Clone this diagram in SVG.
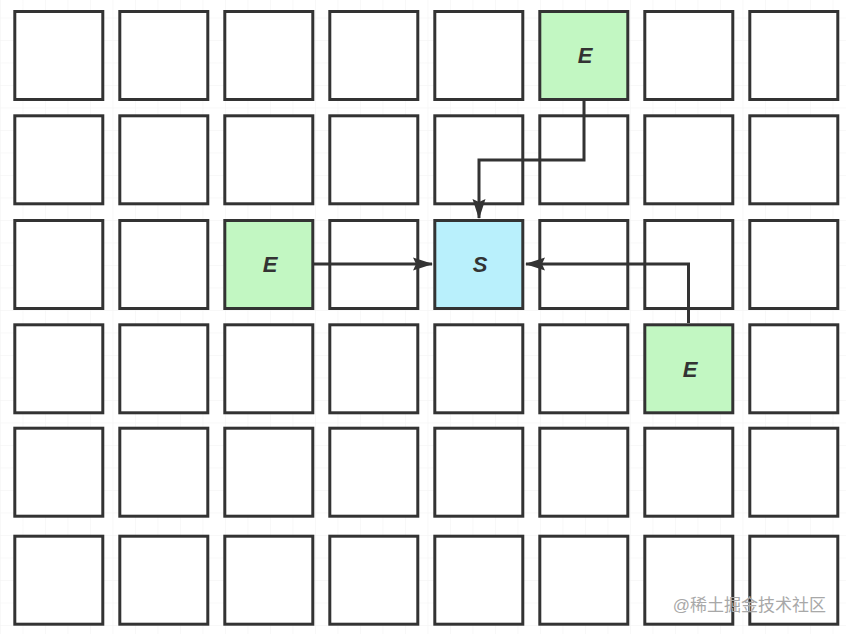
<svg xmlns="http://www.w3.org/2000/svg" width="846" height="634" viewBox="0 0 846 634">
<style>
.cell{fill:#ffffff;stroke:#333333;stroke-width:3}
.e{fill:#c2f7c2}
.s{fill:#b9f0fc}
.lbl{font-family:"Liberation Sans",Arial,sans-serif;font-size:22px;font-weight:bold;font-style:italic;fill:#333333;text-anchor:middle}
.conn{fill:none;stroke:#333333;stroke-width:3}
.wm{font-family:"Liberation Sans","Noto Sans CJK SC",sans-serif;font-size:17px;fill:#a8a8a8;text-anchor:end}
</style>
<defs>
<pattern id="grid" x="0" y="17.5" width="22.5" height="22.5" patternUnits="userSpaceOnUse">
<path d="M0 0 H22.5 M0 0 V22.5" fill="none" stroke="#f2f2f2" stroke-width="1"/>
</pattern>
<marker id="arr" viewBox="0 0 20 14" refX="19" refY="7" markerWidth="20" markerHeight="14" markerUnits="userSpaceOnUse" orient="auto">
<path d="M0 0.5 L20 7 L0 13.5 L3 7 Z" fill="#333333"/>
</marker>
</defs>
<rect width="846" height="634" fill="#ffffff"/>
<rect width="846" height="634" fill="url(#grid)"/>
<g id="cells">
<g id="r0">
<rect class="cell" x="14.8" y="11.5" width="88" height="88"/>
<rect class="cell" x="119.8" y="11.5" width="88" height="88"/>
<rect class="cell" x="224.8" y="11.5" width="88" height="88"/>
<rect class="cell" x="329.8" y="11.5" width="88" height="88"/>
<rect class="cell" x="434.8" y="11.5" width="88" height="88"/>
<rect class="cell" x="644.8" y="11.5" width="88" height="88"/>
<rect class="cell" x="749.8" y="11.5" width="88" height="88"/>
</g>
<g id="r1">
<rect class="cell" x="14.8" y="115.8" width="88" height="88"/>
<rect class="cell" x="119.8" y="115.8" width="88" height="88"/>
<rect class="cell" x="224.8" y="115.8" width="88" height="88"/>
<rect class="cell" x="329.8" y="115.8" width="88" height="88"/>
<rect class="cell" x="434.8" y="115.8" width="88" height="88"/>
<rect class="cell" x="539.8" y="115.8" width="88" height="88"/>
<rect class="cell" x="644.8" y="115.8" width="88" height="88"/>
<rect class="cell" x="749.8" y="115.8" width="88" height="88"/>
</g>
<g id="r2">
<rect class="cell" x="14.8" y="220.5" width="88" height="88"/>
<rect class="cell" x="119.8" y="220.5" width="88" height="88"/>
<rect class="cell" x="329.8" y="220.5" width="88" height="88"/>
<rect class="cell" x="539.8" y="220.5" width="88" height="88"/>
<rect class="cell" x="644.8" y="220.5" width="88" height="88"/>
<rect class="cell" x="749.8" y="220.5" width="88" height="88"/>
</g>
<g id="r3">
<rect class="cell" x="14.8" y="324.8" width="88" height="88"/>
<rect class="cell" x="119.8" y="324.8" width="88" height="88"/>
<rect class="cell" x="224.8" y="324.8" width="88" height="88"/>
<rect class="cell" x="329.8" y="324.8" width="88" height="88"/>
<rect class="cell" x="434.8" y="324.8" width="88" height="88"/>
<rect class="cell" x="539.8" y="324.8" width="88" height="88"/>
<rect class="cell" x="749.8" y="324.8" width="88" height="88"/>
</g>
<g id="r4">
<rect class="cell" x="14.8" y="428.2" width="88" height="88"/>
<rect class="cell" x="119.8" y="428.2" width="88" height="88"/>
<rect class="cell" x="224.8" y="428.2" width="88" height="88"/>
<rect class="cell" x="329.8" y="428.2" width="88" height="88"/>
<rect class="cell" x="434.8" y="428.2" width="88" height="88"/>
<rect class="cell" x="539.8" y="428.2" width="88" height="88"/>
<rect class="cell" x="644.8" y="428.2" width="88" height="88"/>
<rect class="cell" x="749.8" y="428.2" width="88" height="88"/>
</g>
<g id="r5">
<rect class="cell" x="14.8" y="536.2" width="88" height="88"/>
<rect class="cell" x="119.8" y="536.2" width="88" height="88"/>
<rect class="cell" x="224.8" y="536.2" width="88" height="88"/>
<rect class="cell" x="329.8" y="536.2" width="88" height="88"/>
<rect class="cell" x="434.8" y="536.2" width="88" height="88"/>
<rect class="cell" x="539.8" y="536.2" width="88" height="88"/>
<rect class="cell" x="644.8" y="536.2" width="88" height="88"/>
<rect class="cell" x="749.8" y="536.2" width="88" height="88"/>
</g>
</g>
<g id="connectors">
<path class="conn" d="M584 101 V160 H479 V218" marker-end="url(#arr)"/>
<path class="conn" d="M314 264 H432" marker-end="url(#arr)"/>
<path class="conn" d="M688.5 323 V264 H526" marker-end="url(#arr)"/>
</g>
<g id="E1">
<rect class="cell e" x="539.8" y="11.5" width="88" height="88"/>
<text class="lbl" x="585" y="63">E</text>
</g>
<g id="E2">
<rect class="cell e" x="224.8" y="220.5" width="88" height="88"/>
<text class="lbl" x="270" y="272">E</text>
</g>
<g id="S">
<rect class="cell s" x="434.8" y="220.5" width="88" height="88"/>
<text class="lbl" x="480" y="272">S</text>
</g>
<g id="E3">
<rect class="cell e" x="644.8" y="324.8" width="88" height="88"/>
<text class="lbl" x="690" y="377">E</text>
</g>
<text class="wm" x="826" y="611">@稀土掘金技术社区</text>
</svg>
